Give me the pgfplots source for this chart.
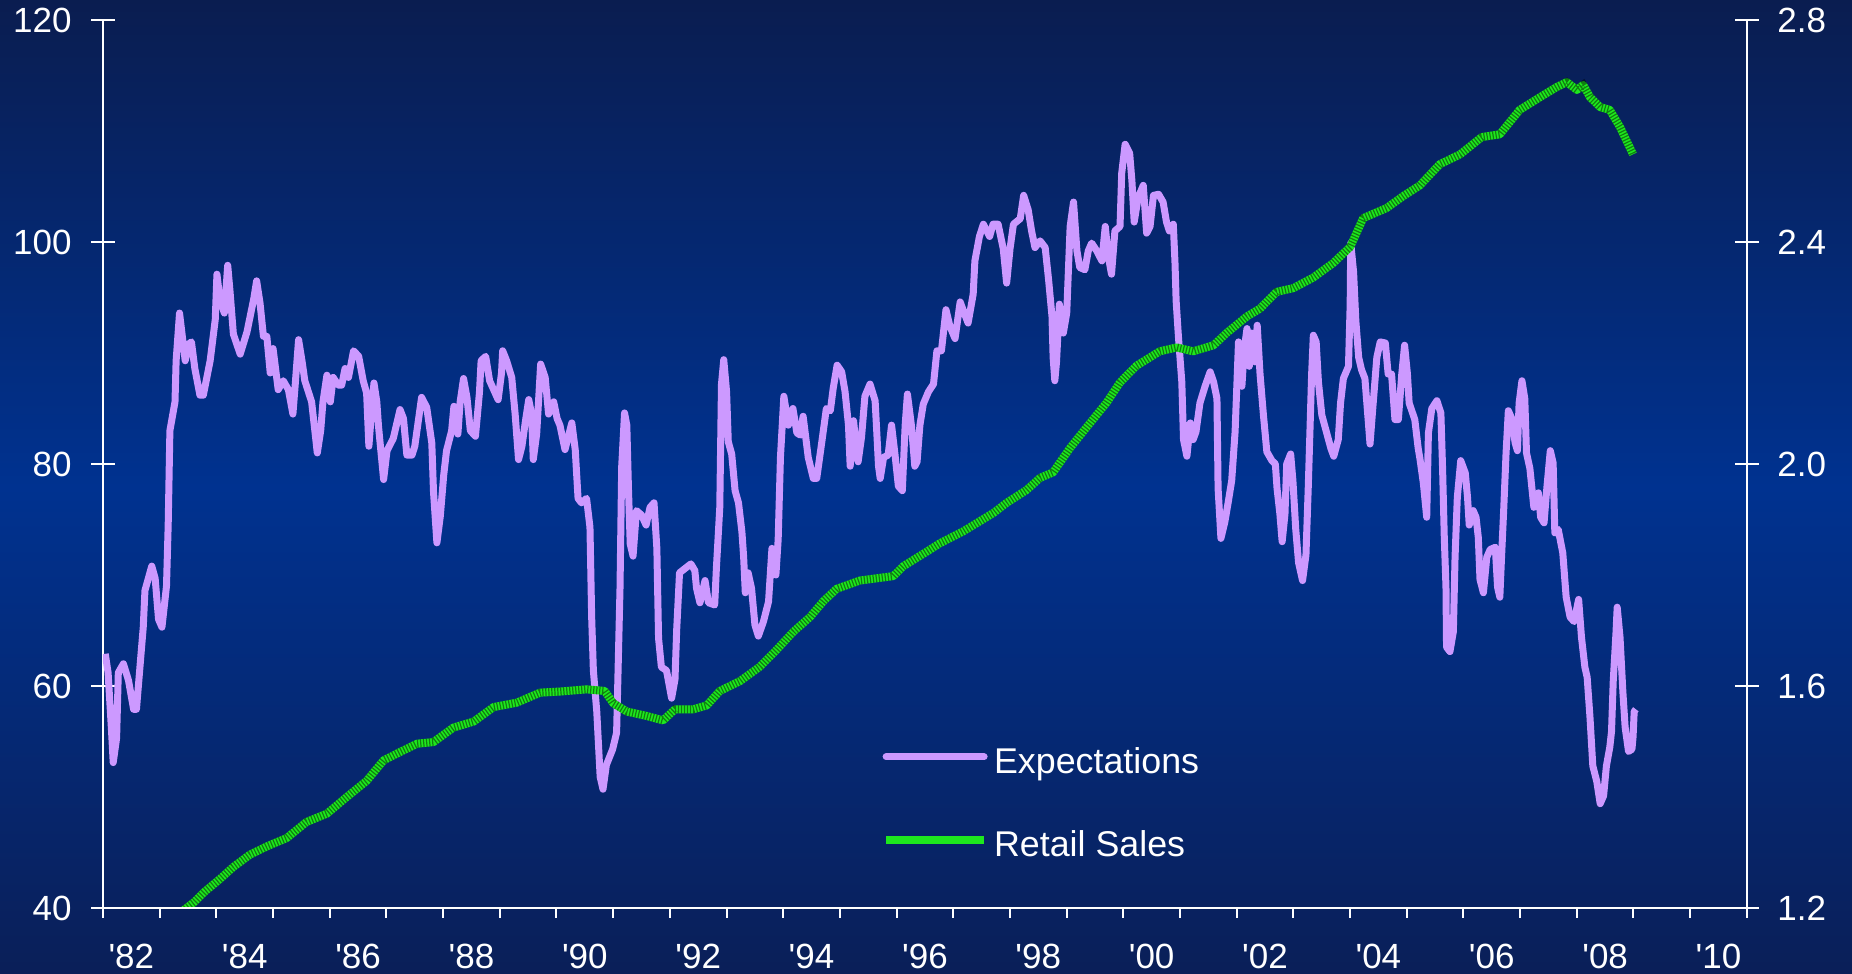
\documentclass[border=0pt]{standalone}
\usepackage{pgfplots}
\usepackage{pgfplotstable}
\pgfplotsset{compat=1.18}
\usepackage{fontspec}
\setmainfont{Liberation Sans}

\definecolor{lav}{HTML}{CC99FF}
\definecolor{rgreen}{HTML}{1EE81E}
\definecolor{bgtop}{HTML}{0A1D50}
\definecolor{bgmid}{HTML}{003290}
\definecolor{bgbot}{HTML}{0A1F58}

% Expectations index (left axis)
\pgfplotstableread{
year val
1982.04 62.9
1982.09 61.2
1982.15 56.0
1982.18 53.1
1982.24 55.3
1982.27 61.2
1982.36 62.0
1982.45 60.5
1982.54 57.9
1982.59 57.9
1982.65 61.6
1982.71 65.3
1982.74 68.6
1982.86 70.8
1982.92 69.7
1982.98 66.0
1983.04 65.3
1983.12 69.0
1983.15 74.5
1983.18 83.0
1983.27 85.6
1983.29 89.3
1983.35 93.6
1983.39 91.9
1983.45 89.3
1983.51 90.8
1983.56 91.0
1983.62 88.6
1983.71 86.2
1983.77 86.2
1983.89 89.3
1983.98 93.0
1984.01 97.1
1984.06 94.9
1984.14 93.6
1984.20 97.9
1984.24 95.6
1984.30 91.7
1984.42 89.9
1984.54 91.9
1984.66 94.9
1984.71 96.5
1984.77 94.5
1984.83 91.5
1984.89 91.5
1984.95 88.2
1985.00 90.4
1985.09 86.7
1985.18 87.5
1985.27 86.7
1985.35 84.5
1985.39 87.1
1985.45 91.2
1985.51 89.3
1985.56 87.5
1985.68 85.6
1985.78 81.0
1985.84 83.0
1985.88 85.6
1985.95 88.0
1986.01 85.6
1986.06 87.8
1986.15 87.1
1986.21 87.1
1986.27 88.6
1986.33 87.8
1986.42 90.2
1986.51 89.7
1986.59 87.5
1986.65 86.4
1986.69 81.6
1986.74 84.9
1986.78 87.3
1986.83 85.6
1986.86 83.4
1986.95 78.6
1987.01 81.2
1987.12 82.3
1987.24 84.9
1987.30 84.1
1987.36 80.8
1987.45 80.8
1987.50 81.6
1987.62 86.0
1987.71 85.1
1987.80 81.9
1987.83 77.5
1987.89 72.9
1987.95 75.3
1988.01 79.0
1988.06 81.2
1988.15 83.0
1988.19 85.2
1988.26 82.7
1988.30 85.6
1988.36 87.7
1988.42 86.0
1988.48 83.0
1988.57 82.5
1988.64 86.4
1988.67 89.3
1988.75 89.7
1988.82 87.5
1988.97 85.8
1989.03 88.2
1989.05 90.2
1989.12 89.3
1989.21 87.8
1989.27 84.5
1989.33 80.4
1989.39 81.6
1989.45 83.8
1989.51 85.8
1989.56 84.5
1989.59 80.4
1989.65 82.7
1989.72 89.0
1989.80 87.8
1989.86 84.5
1989.95 85.6
1990.01 84.1
1990.06 83.5
1990.15 81.3
1990.27 83.7
1990.33 81.3
1990.38 76.9
1990.44 76.5
1990.53 76.9
1990.59 74.3
1990.62 66.2
1990.65 61.4
1990.71 57.7
1990.77 51.8
1990.82 50.7
1990.88 52.9
1990.99 54.3
1991.06 55.8
1991.12 68.8
1991.15 79.8
1991.20 84.6
1991.24 83.5
1991.27 77.6
1991.30 72.8
1991.35 71.7
1991.41 75.8
1991.50 75.4
1991.58 74.5
1991.65 76.1
1991.72 76.5
1991.77 72.4
1991.80 64.3
1991.85 61.7
1991.94 61.4
1992.03 58.9
1992.09 60.6
1992.12 65.1
1992.17 70.2
1992.27 70.6
1992.37 71.0
1992.44 70.4
1992.47 68.8
1992.53 67.5
1992.62 69.5
1992.68 67.5
1992.79 67.3
1992.82 70.6
1992.88 76.1
1992.91 87.2
1992.95 89.4
1993.00 86.5
1993.03 82.0
1993.09 80.9
1993.15 77.6
1993.21 76.5
1993.27 73.9
1993.30 71.7
1993.33 68.4
1993.38 70.2
1993.44 68.8
1993.50 65.5
1993.56 64.5
1993.65 65.8
1993.74 67.6
1993.80 72.4
1993.87 70.0
1993.91 73.2
1993.95 80.6
1994.01 86.1
1994.09 83.5
1994.17 85.0
1994.24 82.8
1994.30 82.6
1994.35 84.3
1994.44 80.6
1994.53 78.7
1994.59 78.7
1994.68 82.0
1994.76 85.0
1994.83 84.8
1994.88 86.8
1994.95 88.9
1995.03 88.3
1995.09 86.5
1995.15 83.5
1995.18 79.8
1995.24 83.9
1995.29 81.3
1995.32 80.2
1995.38 82.4
1995.44 86.1
1995.53 87.2
1995.62 85.7
1995.65 82.8
1995.68 79.8
1995.71 78.7
1995.77 80.6
1995.85 80.8
1995.91 83.5
1995.97 80.9
1996.03 78.0
1996.10 77.6
1996.15 83.5
1996.19 86.3
1996.26 83.5
1996.32 79.8
1996.36 80.2
1996.41 83.5
1996.47 85.4
1996.56 86.5
1996.65 87.2
1996.71 90.2
1996.79 90.2
1996.87 93.9
1996.94 92.4
1997.03 91.3
1997.12 94.6
1997.20 93.5
1997.26 92.7
1997.35 95.3
1997.38 98.3
1997.46 100.5
1997.53 101.6
1997.64 100.5
1997.70 101.6
1997.79 101.6
1997.88 99.4
1997.94 96.3
1998.00 99.4
1998.06 101.6
1998.18 102.1
1998.24 104.2
1998.32 102.9
1998.38 101.0
1998.44 99.5
1998.53 100.1
1998.62 99.5
1998.68 96.6
1998.74 93.3
1998.76 89.6
1998.79 87.5
1998.82 89.2
1998.87 94.4
1998.94 91.8
1999.00 93.6
1999.06 101.4
1999.12 103.6
1999.18 99.2
1999.23 97.7
1999.32 97.5
1999.38 99.2
1999.44 99.9
1999.53 99.2
1999.62 98.3
1999.68 101.4
1999.73 98.8
1999.79 97.1
1999.85 101.0
1999.94 101.4
1999.97 106.2
2000.03 108.8
2000.11 108.0
2000.15 105.5
2000.19 101.8
2000.26 104.0
2000.35 105.1
2000.41 100.8
2000.47 101.4
2000.53 104.2
2000.62 104.3
2000.70 103.6
2000.76 101.8
2000.81 101.0
2000.88 101.6
2000.91 98.1
2000.93 94.7
2000.97 91.5
2001.03 87.4
2001.06 82.2
2001.12 80.7
2001.18 83.7
2001.23 82.2
2001.28 82.9
2001.35 85.5
2001.44 87.0
2001.53 88.3
2001.59 87.4
2001.65 85.9
2001.67 77.8
2001.72 73.3
2001.79 74.8
2001.85 76.6
2001.91 78.5
2001.97 82.9
2002.03 91.0
2002.09 87.0
2002.13 90.3
2002.18 92.2
2002.22 88.8
2002.26 91.8
2002.32 89.2
2002.36 92.5
2002.41 88.1
2002.47 84.4
2002.53 81.1
2002.62 80.3
2002.68 80.0
2002.71 77.8
2002.76 75.5
2002.80 73.0
2002.85 75.5
2002.88 80.0
2002.95 80.9
2002.99 78.5
2003.04 74.1
2003.09 71.1
2003.16 69.5
2003.22 71.8
2003.26 77.8
2003.29 82.9
2003.32 88.1
2003.35 91.6
2003.40 91.0
2003.44 87.4
2003.50 84.4
2003.58 82.9
2003.66 81.4
2003.71 80.7
2003.79 82.2
2003.83 85.5
2003.88 87.7
2003.97 88.8
2004.00 94.4
2004.01 99.9
2004.06 97.3
2004.10 92.9
2004.15 89.6
2004.20 88.5
2004.26 87.7
2004.30 85.1
2004.35 81.8
2004.40 85.1
2004.47 89.6
2004.53 91.0
2004.62 90.9
2004.67 88.1
2004.73 88.1
2004.79 84.0
2004.85 84.0
2004.91 88.1
2004.96 90.7
2005.01 88.1
2005.04 85.5
2005.14 84.0
2005.20 81.4
2005.23 80.5
2005.29 78.3
2005.35 75.2
2005.38 82.8
2005.44 85.0
2005.53 85.7
2005.60 84.6
2005.63 79.6
2005.66 73.4
2005.69 68.9
2005.70 63.5
2005.76 63.1
2005.82 64.9
2005.85 71.6
2005.89 77.0
2005.95 80.3
2006.03 79.2
2006.07 77.0
2006.10 74.5
2006.17 75.8
2006.22 75.2
2006.26 73.4
2006.29 69.6
2006.35 68.4
2006.41 71.6
2006.47 72.3
2006.56 72.5
2006.60 68.9
2006.64 68.0
2006.67 71.6
2006.71 76.1
2006.75 81.0
2006.79 84.8
2006.85 84.1
2006.91 81.9
2006.95 81.2
2006.98 85.5
2007.03 87.5
2007.08 85.9
2007.11 81.0
2007.17 79.6
2007.24 76.1
2007.32 77.4
2007.36 75.2
2007.42 74.7
2007.47 77.9
2007.53 81.2
2007.58 80.1
2007.61 73.8
2007.67 74.1
2007.75 72.0
2007.81 68.0
2007.88 66.2
2007.95 65.8
2008.03 67.8
2008.08 64.4
2008.14 61.7
2008.18 60.8
2008.23 57.2
2008.28 52.8
2008.35 51.4
2008.41 49.4
2008.47 50.1
2008.52 52.8
2008.58 54.5
2008.61 55.9
2008.64 60.4
2008.69 64.9
2008.71 67.1
2008.76 64.4
2008.81 59.5
2008.85 56.3
2008.91 54.1
2008.97 54.3
2008.99 55.4
2009.01 57.7
2009.04 57.9
}\expect

% Retail sales (right axis)
\pgfplotstableread{
year val
1983.41 1.195
1983.60 1.210
1983.80 1.230
1984.06 1.252
1984.30 1.274
1984.59 1.296
1984.89 1.311
1985.24 1.326
1985.59 1.355
1985.95 1.370
1986.30 1.400
1986.65 1.429
1986.95 1.466
1987.24 1.481
1987.54 1.496
1987.83 1.499
1988.18 1.525
1988.54 1.536
1988.89 1.562
1989.30 1.570
1989.71 1.588
1990.06 1.590
1990.53 1.594
1990.85 1.591
1991.00 1.569
1991.24 1.554
1991.59 1.546
1991.88 1.538
1992.09 1.558
1992.41 1.558
1992.65 1.565
1992.88 1.591
1993.24 1.609
1993.59 1.635
1993.88 1.665
1994.18 1.698
1994.47 1.724
1994.71 1.753
1994.94 1.775
1995.35 1.790
1995.94 1.798
1996.12 1.816
1996.53 1.842
1996.76 1.857
1997.18 1.879
1997.71 1.912
1997.94 1.930
1998.29 1.953
1998.53 1.975
1998.76 1.985
1999.06 2.029
1999.35 2.066
1999.70 2.110
1999.94 2.147
2000.23 2.177
2000.64 2.203
2000.94 2.210
2001.23 2.203
2001.59 2.214
2001.82 2.236
2002.18 2.266
2002.41 2.280
2002.70 2.310
2003.00 2.317
2003.35 2.336
2003.70 2.362
2004.00 2.391
2004.23 2.443
2004.64 2.461
2004.94 2.483
2005.23 2.502
2005.58 2.540
2005.94 2.558
2006.32 2.589
2006.64 2.594
2006.99 2.638
2007.35 2.661
2007.64 2.679
2007.82 2.688
2008.00 2.674
2008.11 2.683
2008.23 2.661
2008.41 2.643
2008.58 2.638
2008.76 2.607
2008.99 2.558
}\retail

\pgfplotsset{
  base/.style={
    scale only axis, width=822pt, height=444pt,
    xmin=1982, xmax=2011,
    axis line style={white, line width=1pt},
    tick style={white, line width=1pt},
    ticklabel style={font=\fontsize{17.5}{20}\selectfont, text=white},
    /pgf/number format/assume math mode=true,
  },
}

\begin{document}
\begin{tikzpicture}
\shade[top color=bgtop, bottom color=bgbot, middle color=bgmid]
  (-51.5pt,-33pt) rectangle (874.5pt,454pt);
\path[use as bounding box] (-51.5pt,-33pt) rectangle (874.5pt,454pt);

% left axis: Expectations
\begin{axis}[base,
  axis x line=none, axis y line*=left,
  ymin=40, ymax=120, ytick={40,60,80,100,120},
  tick align=center, major tick length=12pt,
  yticklabel style={anchor=east, inner sep=0pt, xshift=-9.5pt},
]
\addplot[lav, line width=3.5pt, line join=round] table {\expect};
\end{axis}

% right axis: Retail Sales
\begin{axis}[base,
  axis x line=none, axis y line*=right,
  ymin=1.2, ymax=2.8, ytick={1.2,1.6,2.0,2.4,2.8},
  tick align=center, major tick length=12pt,
  yticklabel style={anchor=west, inner sep=0pt, xshift=9pt,
    /pgf/number format/.cd, fixed, fixed zerofill, precision=1},
  legend style={draw=none, fill=none, inner sep=0pt, outer sep=0pt,
    at={(0.4739,0.1806)}, anchor=north west,
    font=\fontsize{17.9}{22}\selectfont, text=white,
    row sep=24.8pt, column sep=3pt,
    nodes={inner sep=0pt, text height=12.8pt, text depth=3.8pt}},
  legend cell align=left,
  legend image code/.code={\draw[#1] (0pt,0.37em) -- (49pt,0.37em);},
]
\addlegendimage{lav, line width=3.5pt, line cap=round}
\addlegendentry{Expectations}
\addplot[rgreen, line width=4pt, line join=round] table {\retail};
\addlegendentry{Retail Sales}
\addplot[black, opacity=0.45, line width=4pt, dash pattern=on 0.6pt off 0.9pt, forget plot] table {\retail};
\end{axis}

% x axis with year labels between ticks
\begin{axis}[base,
  axis y line=none, axis x line*=bottom,
  ymin=0, ymax=1,
  xtick={1982,...,2011},
  x tick label as interval,
  xticklabels={\textquotesingle 82,,\textquotesingle 84,,\textquotesingle 86,,\textquotesingle 88,,\textquotesingle 90,,\textquotesingle 92,,\textquotesingle 94,,\textquotesingle 96,,\textquotesingle 98,,\textquotesingle 00,,\textquotesingle 02,,\textquotesingle 04,,\textquotesingle 06,,\textquotesingle 08,,\textquotesingle 10},
  tick align=outside, major tick length=5pt,
  xticklabel style={anchor=north, inner sep=0pt, yshift=-12.7pt},
]
\end{axis}
\end{tikzpicture}
\end{document}
